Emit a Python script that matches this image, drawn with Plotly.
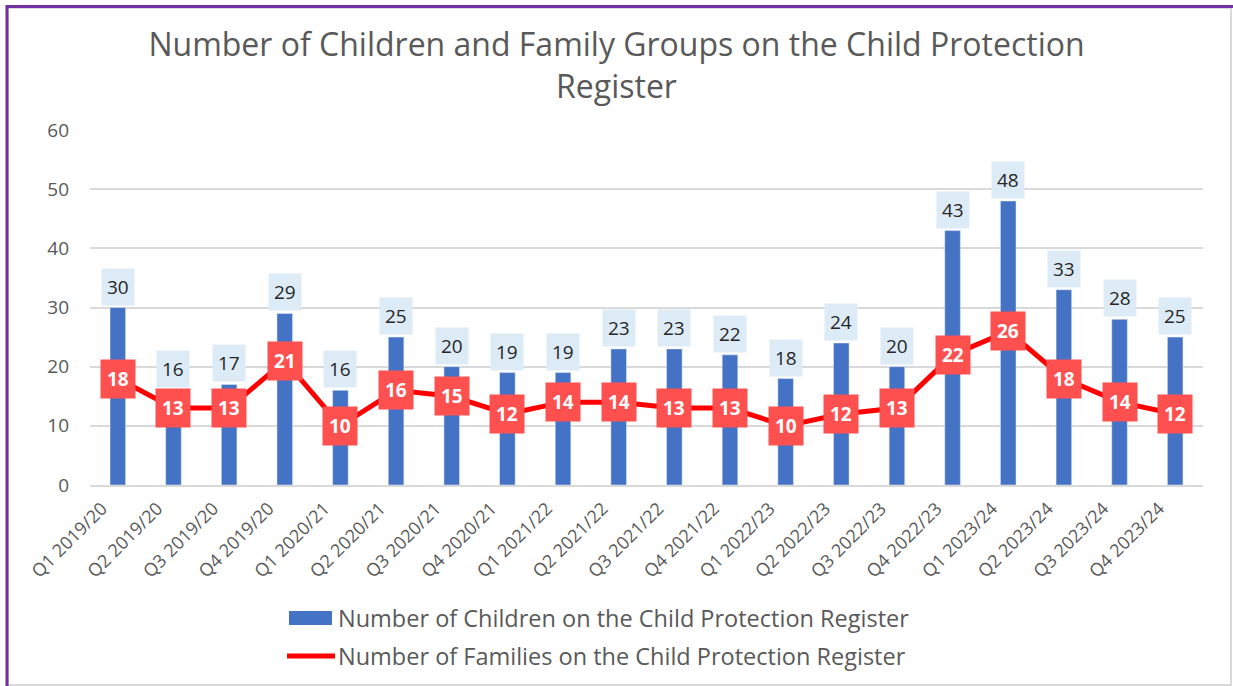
import plotly.graph_objects as go

categories = ["Q1 2019/20", "Q2 2019/20", "Q3 2019/20", "Q4 2019/20",
              "Q1 2020/21", "Q2 2020/21", "Q3 2020/21", "Q4 2020/21",
              "Q1 2021/22", "Q2 2021/22", "Q3 2021/22", "Q4 2021/22",
              "Q1 2022/23", "Q2 2022/23", "Q3 2022/23", "Q4 2022/23",
              "Q1 2023/24", "Q2 2023/24", "Q3 2023/24", "Q4 2023/24"]
children = [30, 16, 17, 29, 16, 25, 20, 19, 19, 23, 23, 22, 18, 24, 20, 43, 48, 33, 28, 25]
families = [18, 13, 13, 21, 10, 16, 15, 12, 14, 14, 13, 13, 10, 12, 13, 22, 26, 18, 14, 12]
series_names = ["Number of Children on the Child Protection Register",
                "Number of Families on the Child Protection Register"]

W, H = 1233, 686
L, R, T, B = 90, 30, 130, 201
FONT = "Open Sans"
GREY = "#595959"
BLUE = "#4472C4"
RED = "#FF0000"

fig = go.Figure()
fig.add_trace(go.Bar(
    x=categories, y=children, name=series_names[0],
    marker=dict(color=BLUE), width=0.28, showlegend=False,
))
fig.add_trace(go.Scatter(
    x=categories, y=families, mode="lines", name=series_names[1],
    line=dict(color=RED, width=5), showlegend=False,
))

for c, v in zip(categories, children):
    fig.add_annotation(x=c, y=v, text=str(v), showarrow=False, yshift=21,
                       bgcolor="#DDEBF7", borderpad=5,
                       font=dict(family=FONT, size=19, color="#262626"))
for c, v in zip(categories, families):
    fig.add_annotation(x=c, y=v, text="<b>%d</b>" % v, showarrow=False,
                       bgcolor="#FF5050", borderpad=6,
                       font=dict(family=FONT, size=19, color="#FFFFFF"))


def px(x):
    return (x - L) / (W - L - R)


def py(y):
    return (H - B - y) / (H - T - B)


# frame
fig.add_shape(type="rect", xref="paper", yref="paper",
              x0=px(8), x1=px(1231), y0=py(8), y1=py(685),
              line=dict(color="#D9D9D9", width=2), layer="below")
fig.add_shape(type="line", xref="paper", yref="paper",
              x0=px(6), x1=px(1233), y0=py(6.5), y1=py(6.5),
              line=dict(color="#7030A0", width=3))
fig.add_shape(type="line", xref="paper", yref="paper",
              x0=px(7), x1=px(7), y0=py(5), y1=py(686),
              line=dict(color="#7030A0", width=3))

# legend (drawn)
fig.add_shape(type="rect", xref="paper", yref="paper",
              x0=px(289), x1=px(332), y0=py(611), y1=py(625),
              line=dict(width=0), fillcolor=BLUE)
fig.add_shape(type="line", xref="paper", yref="paper",
              x0=px(287), x1=px(335), y0=py(656), y1=py(656),
              line=dict(color=RED, width=5))
for name, yy in zip(series_names, [618, 656]):
    fig.add_annotation(xref="paper", yref="paper", x=px(336), y=py(yy),
                       xanchor="left", yanchor="middle", showarrow=False,
                       text=name, font=dict(family=FONT, size=23.5, color=GREY))

fig.update_layout(
    width=W, height=H,
    margin=dict(l=L, r=R, t=T, b=B),
    paper_bgcolor="white", plot_bgcolor="white",
    title=dict(text="Number of Children and Family Groups on the Child Protection<br>Register",
               x=0.5, xanchor="center", y=1 - 56 / H, yanchor="middle",
               font=dict(family=FONT, size=32, color=GREY)),
    font=dict(family=FONT, color=GREY),
    showlegend=False,
)
fig.update_yaxes(range=[0, 60], dtick=10, showgrid=True, gridcolor="#D9D9D9", gridwidth=2,
                 zeroline=False, showline=False, ticks="", ticklen=0,
                 tickfont=dict(family=FONT, size=19, color=GREY), ticklabelstandoff=20)
fig.update_xaxes(showline=True, linecolor="#D9D9D9", linewidth=2, ticks="",
                 tickangle=-45, tickfont=dict(family=FONT, size=18, color=GREY),
                 ticklabelshift=-16, ticklabelstandoff=4)

fig.write_html("out.html", config={"displayModeBar": False},
               post_script="document.body.style.margin='0';")
